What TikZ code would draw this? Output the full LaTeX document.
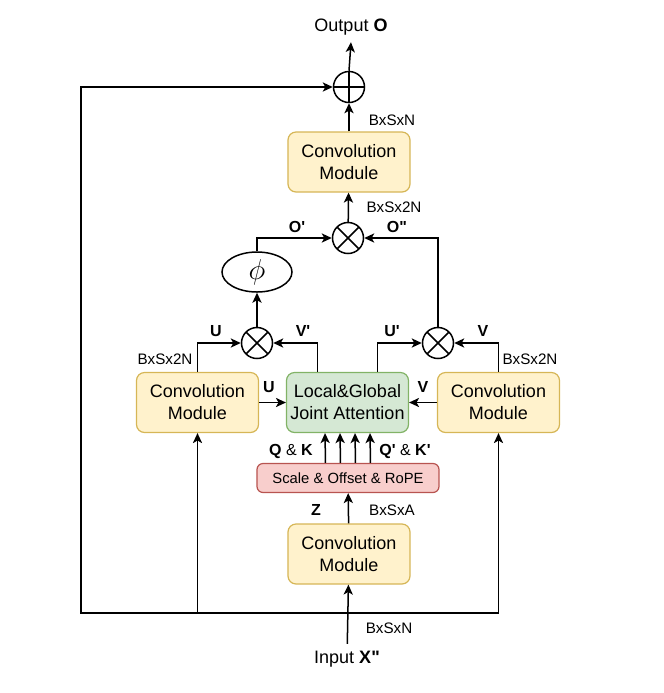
\documentclass[tikz,border=0pt]{standalone}
\usepackage{fontspec}
\setmainfont{Liberation Sans}
\usetikzlibrary{arrows.meta,shapes.geometric}
\definecolor{convfill}{HTML}{FFF2CC}
\definecolor{convdraw}{HTML}{D6B656}
\definecolor{attfill}{HTML}{D5E8D4}
\definecolor{attdraw}{HTML}{82B366}
\definecolor{ropefill}{HTML}{F8CECC}
\definecolor{ropedraw}{HTML}{B85450}
\newcommand{\prm}{\textquotesingle}
\newcommand{\dprm}{\textquotedbl}
\tikzset{convbox/.style={draw=convdraw,fill=convfill,rounded corners=4pt,line width=.6pt,minimum width=61pt,
    minimum height=30pt,align=center,font=\fontsize{9}{11}\selectfont,inner sep=0pt},
  attbox/.style={convbox,draw=attdraw,fill=attfill},
  ropebox/.style={draw=ropedraw,fill=ropefill,rounded corners=3pt,line width=.6pt,minimum width=91pt,
    minimum height=14.5pt,font=\fontsize{7.4}{9}\selectfont,inner sep=0pt},
  opcirc/.style={circle,draw,line width=.75pt,minimum size=15.5pt,inner sep=0pt},
  pluscirc/.style={opcirc,path picture={\draw[line width=.75pt]
    (path picture bounding box.north) -- (path picture bounding box.south)
    (path picture bounding box.west) -- (path picture bounding box.east);}},
  timescirc/.style={opcirc,path picture={\draw[line width=.75pt]
    (path picture bounding box.north west) -- (path picture bounding box.south east)
    (path picture bounding box.south west) -- (path picture bounding box.north east);}},
  dimlabel/.style={font=\fontsize{7.6}{9}\selectfont,inner sep=0pt},
  symlabel/.style={font=\fontsize{8}{9}\selectfont\bfseries,inner sep=0pt},
  arrow/.style={-{Stealth[length=5pt,width=4.6pt,inset=1.3pt]},line width=.75pt}}

\begin{document}
\begin{tikzpicture}[x=.5pt,y=-.5pt]
  \path[use as bounding box] (0,0) rectangle (664,693);
  % blocks
  \node[font=\fontsize{9}{11}\selectfont] (out) at (351,27) {Output \textbf{O}};
  \node[pluscirc] (sum) at (349,87) {};
  \node[convbox] (convtop) at (349,162) {Convolution\\Module};
  \node[timescirc] (mulo) at (348,238) {};
  \node[ellipse,draw,line width=.75pt,minimum width=35pt,minimum height=20pt,inner sep=0pt] (phi) at (257,272) {\Large$\phi$};
  \node[timescirc] (mulu) at (257,343) {};
  \node[timescirc] (mulv) at (438,343) {};
  \node[convbox] (convleft) at (197.5,402.5) {Convolution\\Module};
  \node[attbox] (att) at (347.5,402.5) {Local\&Global\\Joint Attention};
  \node[convbox] (convright) at (498.5,402.5) {Convolution\\Module};
  \node[ropebox] (rope) at (348,478) {Scale \& Offset \& RoPE};
  \node[convbox] (convbot) at (349,554) {Convolution\\Module};
  \node[font=\fontsize{9}{11}\selectfont] (in) at (347,659) {Input \textbf{X\dprm}};
  \coordinate (split) at (347,613);
  \coordinate (loop) at (81,613);

  % connectors
  \draw[arrow] (sum.north) -- (out.south);
  \draw[arrow] (convtop) -- (sum);
  \draw[arrow] (mulo) -- (convtop);
  \draw[arrow] (phi.north) |- (mulo.west);
  \draw[arrow] (mulv.north) |- (mulo.east);
  \draw[arrow] (mulu) -- (phi);
  \draw[arrow] (convleft.north) |- (mulu.west);
  \draw[arrow] ([xshift=-15pt]att.north) |- (mulu.east);
  \draw[arrow] ([xshift=15pt]att.north) |- (mulv.west);
  \draw[arrow] (convright.north) |- (mulv.east);
  \draw[arrow] (convleft) -- (att);
  \draw[arrow] (convright) -- (att);
  \foreach \dx in {-11.25,-3.75,3.75,11.25}
    \draw[arrow] ([xshift=\dx pt]rope.north) -- ([xshift=\dx pt]att.south);
  \draw[arrow] (convbot) -- (rope);
  \draw[arrow] (in) -- (convbot);
  \draw[arrow] (split) -- (loop) |- (sum.west);
  \draw[arrow] (split -| convleft) -- (convleft.south);
  \draw[arrow] (split) -| (convright.south);

  % labels
  \node[dimlabel] (dsum) at (392,120) {BxSxN};
  \node[dimlabel] (dmulo) at (394,207) {BxSx2N};
  \node[dimlabel] (dleft) at (165,359) {BxSx2N};
  \node[dimlabel] (dright) at (530,359) {BxSx2N};
  \node[dimlabel] (drope) at (392,510) {BxSxA};
  \node[dimlabel] (din) at (389,628) {BxSxN};
  \node[symlabel] (lo1) at (297,227) {O\prm};
  \node[symlabel] (lo2) at (397,227) {O\dprm};
  \node[symlabel] (lu1) at (216,331) {U};
  \node[symlabel] (lv1) at (303,331) {V\prm};
  \node[symlabel] (lu2) at (392,331) {U\prm};
  \node[symlabel] (lv2) at (483,331) {V};
  \node[symlabel] (lu3) at (269,387) {U};
  \node[symlabel] (lv3) at (423,387) {V};
  \node[symlabel] (lz) at (316,510) {Z};
  \node[symlabel,font=\fontsize{8}{9}\selectfont] (lqk) at (291,451) {\textbf{Q} \& \textbf{K}};
  \node[symlabel,font=\fontsize{8}{9}\selectfont] (lqk2) at (405,451) {\textbf{Q\prm} \& \textbf{K\prm}};
\end{tikzpicture}
\end{document}
